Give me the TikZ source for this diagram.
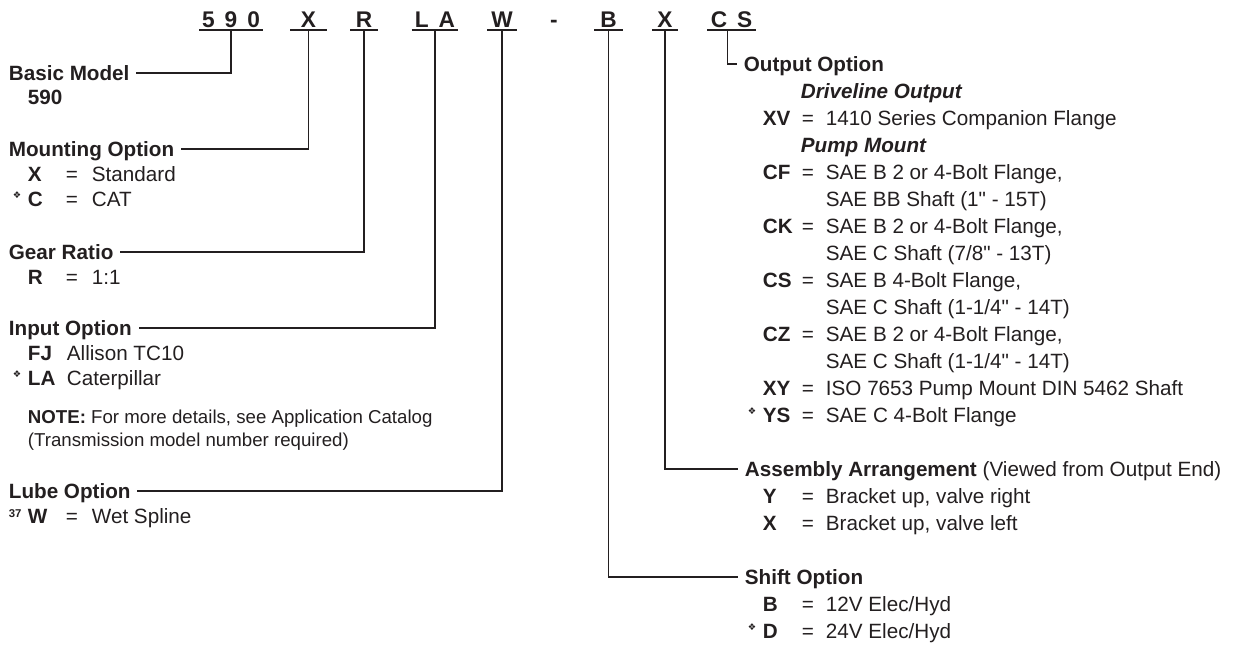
\documentclass[tikz,border=0pt]{standalone}
\usepackage{fontspec}
\setmainfont{Liberation Sans}
\newfontfamily\symfont{DejaVu Sans}
\definecolor{ink}{HTML}{231F20}

% marker, key and "=" columns
\newcommand{\dia}{\raisebox{5.8pt}{\symfont\fontsize{7}{7}\selectfont ❖}}
\newcommand{\supn}[1]{\raisebox{4.4pt}{\fontsize{8.5}{8.5}\selectfont\bfseries #1}}
\newcommand{\inch}{\XeTeXglyph\XeTeXcharglyph"22\relax}
\newcommand{\mkbox}[1]{\makebox[14.25pt][l]{\hspace{3pt}#1}}
\newcommand{\optL}[3]{\mkbox{#1}\makebox[28.5pt][l]{\bfseries #2}\makebox[19.5pt][l]{=}#3}
\newcommand{\optR}[3]{\mkbox{#1}\makebox[29.25pt][l]{\bfseries #2}\makebox[18pt][l]{=}#3}
\newcommand{\cgap}{\hspace{7.5pt}}

\tikzset{every picture/.style={line width=1.35pt}}

\begin{document}
\begin{tikzpicture}[x=0.75pt,y=0.75pt,yscale=-1,xscale=1,
  codebox/.style={font=\bfseries\fontsize{17}{17}\selectfont,text=ink,anchor=south,
    inner xsep=0pt,inner ysep=1.5pt,text height=12.2pt,text depth=0pt},
  optlabel/.style={font=\bfseries\fontsize{15.5}{18}\selectfont,text=ink,anchor=west,
    inner xsep=4.5pt,inner ysep=0pt,text height=11.1pt,text depth=0pt},
  optrow/.style={font=\fontsize{15.5}{18}\selectfont,text=ink,anchor=west,
    inner sep=0pt,text height=11.1pt,text depth=0pt},
  noterow/.style={font=\fontsize{14}{16}\selectfont,text=ink,anchor=west,
    inner sep=0pt,text height=10pt,text depth=0pt}]
\useasboundingbox (0,0) rectangle (1242,647);

%% model number groups
\node[codebox,minimum width=46.5pt] (c590) at (231,30) {5\cgap9\cgap0};
\node[codebox,minimum width=26.25pt] (cX) at (308.5,30) {X};
\node[codebox,minimum width=19.5pt] (cR) at (364,30) {R};
\node[codebox,minimum width=33.75pt] (cLA) at (435,30) {L\cgap A};
\node[codebox,minimum width=21pt] (cW) at (502,30) {W};
\node[codebox] (cdash) at (554,30) {-};
\node[codebox,minimum width=20.25pt] (cB) at (608.5,30) {B};
\node[codebox,minimum width=18pt] (cX2) at (665,30) {X};
\node[codebox,minimum width=35.25pt] (cCS) at (731.5,30) {C\cgap S};
\foreach \g in {c590,cX,cR,cLA,cW,cB,cX2,cCS}
  \draw[ink] (\g.south west) -- (\g.south east);

%% left column
\node[optlabel] (basic) at (2,73) {Basic Model};
\node[optrow] (basic1) at (27,97) {\bfseries 590};

\node[optlabel] (mount) at (2,149) {Mounting Option};
\node[optrow] (mount1) at (8,174) {\optL{}{X}{Standard}};
\node[optrow] (mount2) at (8,199) {\optL{\dia}{C}{CAT}};

\node[optlabel] (gear) at (2,252) {Gear Ratio};
\node[optrow] (gear1) at (8,277) {\optL{}{R}{1:1}};

\node[optlabel] (input) at (2,328) {Input Option};
\node[optrow] (input1) at (8,353) {\mkbox{}\makebox[29.25pt][l]{\bfseries FJ}Allison TC10};
\node[optrow] (input2) at (8,378) {\mkbox{\dia}\makebox[29.25pt][l]{\bfseries LA}Caterpillar};
\node[noterow] (note1) at (27,417) {\textbf{NOTE:} For more details, see Application Catalog};
\node[noterow] (note2) at (27,440) {(Transmission model number required)};

\node[optlabel] (lube) at (2,491) {Lube Option};
\node[optrow] (lube1) at (8,516) {\makebox[14.25pt][l]{\supn{37}}\makebox[28.5pt][l]{\bfseries W}\makebox[19.5pt][l]{=}Wet Spline};

%% right column
\node[optlabel] (outopt) at (737,64) {Output Option};
\node[optrow] (out1) at (800,91) {\bfseries\itshape Driveline Output};
\node[optrow] (out2) at (743,118) {\optR{}{XV}{1410 Series Companion Flange}};
\node[optrow] (out3) at (800,145) {\bfseries\itshape Pump Mount};
\node[optrow] (out4) at (743,172) {\optR{}{CF}{SAE B 2 or 4-Bolt Flange,}};
\node[optrow] (out5) at (825,199) {SAE BB Shaft (1\inch{} - 15T)};
\node[optrow] (out6) at (743,226) {\optR{}{CK}{SAE B 2 or 4-Bolt Flange,}};
\node[optrow] (out7) at (825,253) {SAE C Shaft (7/8\inch{} - 13T)};
\node[optrow] (out8) at (743,280) {\optR{}{CS}{SAE B 4-Bolt Flange,}};
\node[optrow] (out9) at (825,307) {SAE C Shaft (1-1/4\inch{} - 14T)};
\node[optrow] (out10) at (743,334) {\optR{}{CZ}{SAE B 2 or 4-Bolt Flange,}};
\node[optrow] (out11) at (825,361) {SAE C Shaft (1-1/4\inch{} - 14T)};
\node[optrow] (out12) at (743,388) {\optR{}{XY}{ISO 7653 Pump Mount DIN 5462 Shaft}};
\node[optrow] (out13) at (743,415) {\optR{\dia}{YS}{SAE C 4-Bolt Flange}};

\node[optlabel] (assy) at (738,469) {Assembly Arrangement \mdseries(Viewed from Output End)};
\node[optrow] (assy1) at (743,496) {\optR{}{Y}{Bracket up, valve right}};
\node[optrow] (assy2) at (743,523) {\optR{}{X}{Bracket up, valve left}};

\node[optlabel] (shift) at (738,577) {Shift Option};
\node[optrow] (shift1) at (743,604) {\optR{}{B}{12V Elec/Hyd}};
\node[optrow] (shift2) at (743,631) {\optR{\dia}{D}{24V Elec/Hyd}};

%% leaders
\draw[ink] (c590.south) |- (basic.east);
\draw[ink] (cX.south) |- (mount.east);
\draw[ink] (cR.south) |- (gear.east);
\draw[ink] (cLA.south) |- (input.east);
\draw[ink] (cW.south) |- (lube.east);
\draw[ink] (cB.south) |- (shift.west);
\draw[ink] (cX2.south) |- (assy.west);
\draw[ink] ([xshift=-3pt]cCS.south) |- (outopt.west);

\end{tikzpicture}
\end{document}
